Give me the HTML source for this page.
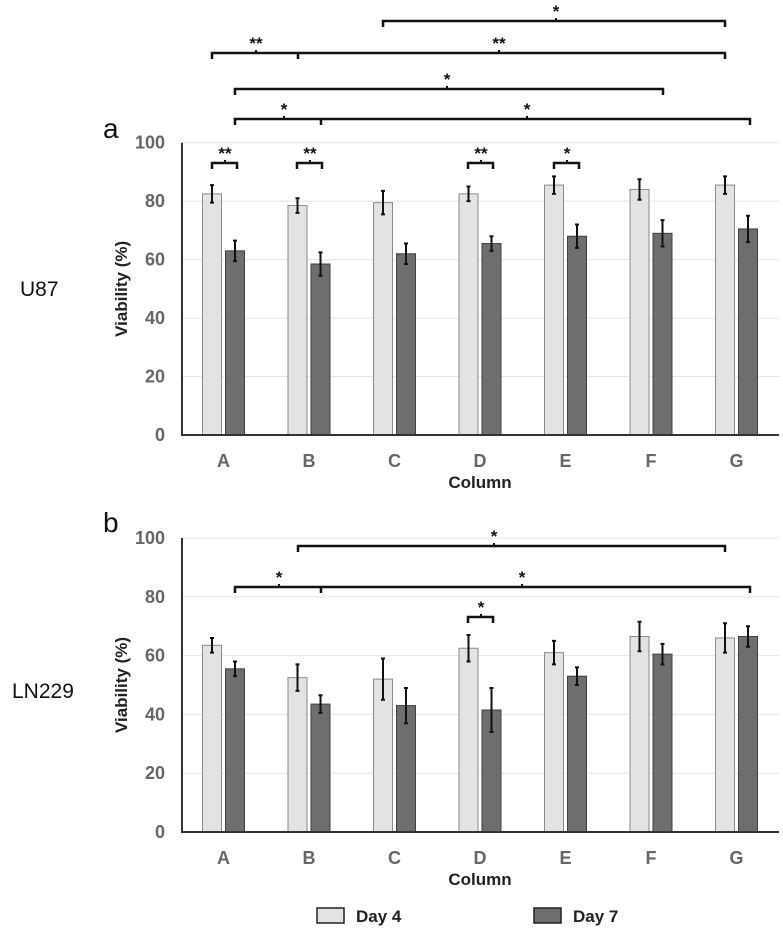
<!DOCTYPE html>
<html><head><meta charset="utf-8"><style>
body{margin:0;background:#fff;}
svg{display:block;font-family:"Liberation Sans",Arial,sans-serif;}
</style></head><body>
<svg id="chart" width="783" height="930" viewBox="0 0 783 930"></svg>
<script>
const categories=["A","B","C","D","E","F","G"];
const u87Day4=[82.5,78.5,79.5,82.5,85.5,84,85.5];
const u87Day4Err=[3,2.5,4,2.5,3,3.5,3];
const u87Day7=[63,58.5,62,65.5,68,69,70.5];
const u87Day7Err=[3.5,4,3.5,2.5,4,4.5,4.5];
const lnDay4=[63.5,52.5,52,62.5,61,66.5,66];
const lnDay4Err=[2.5,4.5,7,4.5,4,5,5];
const lnDay7=[55.5,43.5,43,41.5,53,60.5,66.5];
const lnDay7Err=[2.5,3,6,7.5,3,3.5,3.5];
const yTicks=[0,20,40,60,80,100];

const svg=document.getElementById('chart');
const NS='http://www.w3.org/2000/svg';
function mk(tag,attrs,parent){const e=document.createElementNS(NS,tag);for(const k in attrs)e.setAttribute(k,attrs[k]);(parent||svg).appendChild(e);return e;}
function txt(s,attrs,parent){const e=mk('text',attrs,parent);e.textContent=s;return e;}

const x0=223.5,dx=85.5,off=11.5,bw=19,axisX=182,plotR=779;
function xCat(i){return x0+i*dx;}

function panel(name,yTop,yBot,d4,e4,d7,e7){
  const g=mk('g',{});
  
  
  const y=v=>yBot-(v/100)*(yBot-yTop);
  yTicks.forEach(t=>{
    if(t>0){const l=mk('line',{x1:axisX,x2:plotR,y1:y(t),y2:y(t),stroke:'#e4e4e4','stroke-width':1},g);
      }
    const tl=txt(String(t),{x:165,y:y(t)+6,'text-anchor':'end','font-size':18,'font-weight':'bold',fill:'#666'},g);
    
  });
  categories.forEach((c,i)=>{
    [[d4,e4,-off,'#e3e3e3','#8a8a8a','day4'],[d7,e7,off,'#6e6e6e','#404040','day7']].forEach(s=>{
      const v=s[0][i],er=s[1][i],cx=xCat(i)+s[2];
      const r=mk('rect',{x:cx-bw/2,y:y(v),width:bw,height:yBot-y(v),fill:s[3],stroke:s[4],'stroke-width':1},g);
      
      const eb=mk('path',{d:`M${cx} ${y(v+er)}V${y(v-er)}M${cx-2} ${y(v+er)}H${cx+2}M${cx-2} ${y(v-er)}H${cx+2}`,stroke:'#111','stroke-width':2,fill:'none'},g);
      
    });
    const cl=txt(c,{x:xCat(i),y:yBot+32,'text-anchor':'middle','font-size':18,'font-weight':'bold',fill:'#666'},g);
    
  });
  const ax=mk('path',{d:`M${axisX} ${yTop}V${yBot}H${plotR}`,stroke:'#333','stroke-width':2,fill:'none'},g);
  
  const cy=(yTop+yBot)/2;
  const yt=txt('Viability (%)',{x:0,y:0,transform:`translate(127 ${cy}) rotate(-90)`,'text-anchor':'middle','font-size':17,'font-weight':'bold',fill:'#222'},g);
  
  const xt=txt('Column',{x:480,y:yBot+53,'text-anchor':'middle','font-size':17,'font-weight':'bold',fill:'#222'},g);
  
}
panel('u87',142.7,435,u87Day4,u87Day4Err,u87Day7,u87Day7Err);
panel('ln229',538,832,lnDay4,lnDay4Err,lnDay7,lnDay7Err);

function bracket(x1,x2,yy,stars,sx,midTicks){
  let d=`M${x1} ${yy+6}V${yy}H${x2}V${yy+6}`;
  (midTicks||[]).forEach(m=>{d+=`M${m} ${yy}V${yy+6}`;});
  const p=mk('path',{d:d,stroke:'#111','stroke-width':2.5,fill:'none'});
  
  stars.forEach((s,k)=>{
    const t=txt(s,{x:sx[k],y:yy-4,'text-anchor':'middle','font-size':17,'font-weight':'bold',fill:'#111'});
    
    mk('line',{x1:sx[k],x2:sx[k],y1:yy-3,y2:yy,stroke:'#111','stroke-width':2});
  });
}
// panel a
bracket(383,725,21,['*'],[556]);
bracket(212,725,53,['**','**'],[256,499],[298]);
bracket(235,663,89,['*'],[447]);
bracket(235,750,119,['*','*'],[284,527],[321]);
bracket(212,237,163,['**'],[225]);
bracket(297,322,163,['**'],[310]);
bracket(468,493,163,['**'],[481]);
bracket(554,579,163,['*'],[567]);
// panel b
bracket(298,725,546,['*'],[494]);
bracket(235,750,587,['*','*'],[279,522],[321]);
bracket(468,493,617,['*'],[481]);

[['a',103,138],['b',103,532]].forEach(a=>{const t=txt(a[0],{x:a[1],y:a[2],'font-size':28,fill:'#111'});
  });
[['U87',20,296],['LN229',12,698]].forEach(a=>{const t=txt(a[0],{x:a[1],y:a[2],'font-size':21,fill:'#111'});
  });

const lg=mk('g',{});

[[317,'#e3e3e3','Day 4'],[534,'#6e6e6e','Day 7']].forEach(l=>{
  const e=mk('g',{},lg);
  
  mk('rect',{x:l[0],y:908,width:27,height:15,fill:l[1],stroke:'#222','stroke-width':1.5},e);
  txt(l[2],{x:l[0]+39,y:922,'font-size':17,'font-weight':'bold',fill:'#222'},e);
});
</script>
</body></html>
